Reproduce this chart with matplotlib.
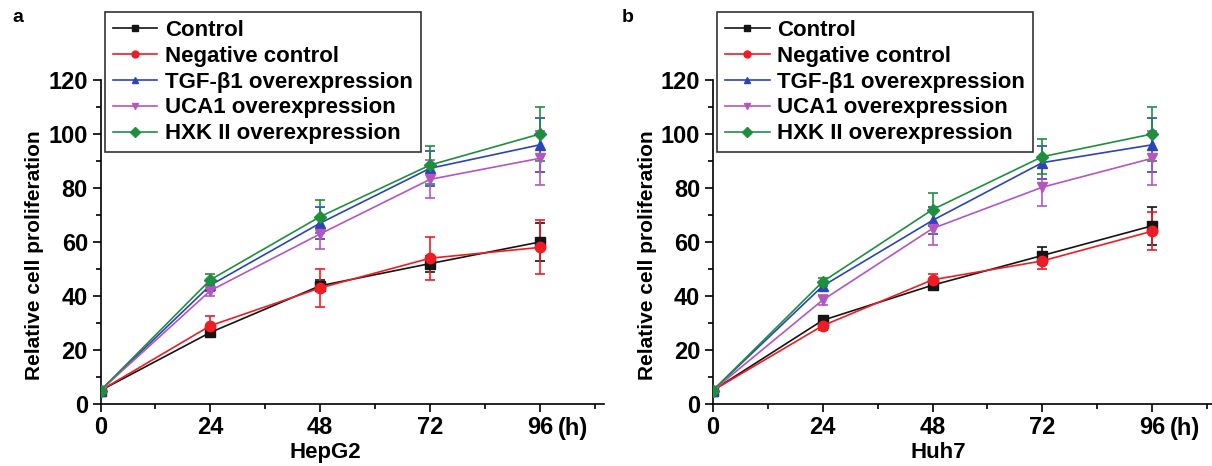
import numpy as np
import matplotlib
matplotlib.use("Agg")
import matplotlib.pyplot as plt
from matplotlib.ticker import MultipleLocator

# Data
hours = [0, 24, 48, 72, 96]
names = ["Control", "Negative control", "TGF-\u03b21 overexpression",
         "UCA1 overexpression", "HXK II overexpression"]

hepg2_control = [5, 26.5, 43.8, 52, 60]
hepg2_negative = [5, 29, 43, 54, 58]
hepg2_tgf = [5, 44, 67, 87.3, 96]
hepg2_uca1 = [5, 42, 63, 83.2, 91]
hepg2_hxk = [5, 46, 69.4, 88.5, 100]
hepg2_control_err = [0.5, 1.5, 2, 3, 7]
hepg2_negative_err = [0.5, 3.5, 7, 8, 10]
hepg2_tgf_err = [0.5, 2, 6, 6.5, 10]
hepg2_uca1_err = [0.5, 2, 5.7, 7, 10]
hepg2_hxk_err = [0.5, 2, 6, 7, 10]

huh7_control = [5, 31, 44, 55, 66]
huh7_negative = [5, 29, 46, 53, 64]
huh7_tgf = [5, 43.7, 68, 89.4, 96]
huh7_uca1 = [5, 38.5, 65, 80.3, 91]
huh7_hxk = [5, 45.3, 72, 91.6, 100]
huh7_control_err = [0.5, 1, 1.5, 3, 7]
huh7_negative_err = [0.5, 1.5, 2, 3, 7]
huh7_tgf_err = [0.5, 1.5, 5, 6, 10]
huh7_uca1_err = [0.5, 2, 6, 7, 10]
huh7_hxk_err = [0.5, 1.5, 6, 6.5, 10]

colors = ["#141414", "#ee1c24", "#2b44b8", "#b455c0", "#1f8f3f"]
markers = ["s", "o", "^", "v", "D"]

plt.rcParams["font.family"] = ["Liberation Sans", "DejaVu Sans"]
plt.rcParams["font.weight"] = "bold"

fig = plt.figure(figsize=(12.12, 4.66), dpi=100)
ax1 = fig.add_axes([100.5 / 1212, 62 / 466, 503.5 / 1212, 324 / 466])
ax2 = fig.add_axes([712.8 / 1212, 62 / 466, 503.5 / 1212, 324 / 466])

panels = [
    (ax1, "HepG2", [hepg2_control, hepg2_negative, hepg2_tgf, hepg2_uca1, hepg2_hxk],
     [hepg2_control_err, hepg2_negative_err, hepg2_tgf_err, hepg2_uca1_err, hepg2_hxk_err]),
    (ax2, "Huh7", [huh7_control, huh7_negative, huh7_tgf, huh7_uca1, huh7_hxk],
     [huh7_control_err, huh7_negative_err, huh7_tgf_err, huh7_uca1_err, huh7_hxk_err]),
]

for ax, cell, series, errs in panels:
    handles = []
    for vals, err, c, m, name in zip(series, errs, colors, markers, names):
        ax.errorbar(hours, vals, yerr=err, fmt="none", ecolor=c, elinewidth=1.2,
                    capsize=3.5, capthick=1.2, zorder=2)
        ms = 6.5 if m == "D" else 7.5
        h, = ax.plot(hours, vals, color=c, marker=m, markersize=ms, lw=1.2,
                     label=name, zorder=3)
        handles.append(h)

    ax.set_xlim(0, 110)
    ax.set_ylim(0, 120)
    ax.spines["top"].set_visible(False)
    ax.spines["right"].set_visible(False)
    for s in ("left", "bottom"):
        ax.spines[s].set_linewidth(1.2)
    ax.spines["left"].set_bounds(0, 120)
    ax.spines["bottom"].set_bounds(0, 110)

    ax.set_xticks(hours)
    ax.set_xticklabels(["0", "24", "48", "72", "96"])
    ax.xaxis.set_minor_locator(MultipleLocator(12))
    ax.yaxis.set_major_locator(MultipleLocator(20))
    ax.yaxis.set_minor_locator(MultipleLocator(10))
    ax.tick_params(which="major", direction="out", length=6, width=1.2, pad=3,
                   labelsize=17)
    ax.tick_params(which="minor", direction="out", length=3.5, width=1.2)
    ax.annotate("(h)", xy=(96, 0), xycoords=("data", "axes fraction"),
                xytext=(13, -9.5), textcoords="offset points", ha="left", va="top",
                fontsize=17, fontweight="bold")

    ax.set_xlabel(cell, fontsize=16, fontweight="bold", labelpad=2)
    ax.xaxis.label.set_x(0.447)
    ax.set_ylabel("Relative cell proliferation", fontsize=15, fontweight="bold", labelpad=3)
    ax.yaxis.label.set_y(0.46)

    leg = ax.legend(handles=handles, loc="upper left", bbox_to_anchor=(0.009, 1.21),
                    borderaxespad=0, frameon=True, fancybox=False, edgecolor="black",
                    prop={"size": 16, "weight": "bold"}, handlelength=2.0,
                    handletextpad=0.35, labelspacing=0.22, borderpad=0.35)
    leg.get_frame().set_linewidth(1.2)
    for h in leg.legend_handles:
        h.set_markersize(5)

fig.text(12 / 1212, 1 - 18 / 466, "a", fontsize=14, fontweight="bold", va="center")
fig.text(622 / 1212, 1 - 18 / 466, "b", fontsize=14, fontweight="bold", va="center")

fig.savefig("out.png", dpi=100)
